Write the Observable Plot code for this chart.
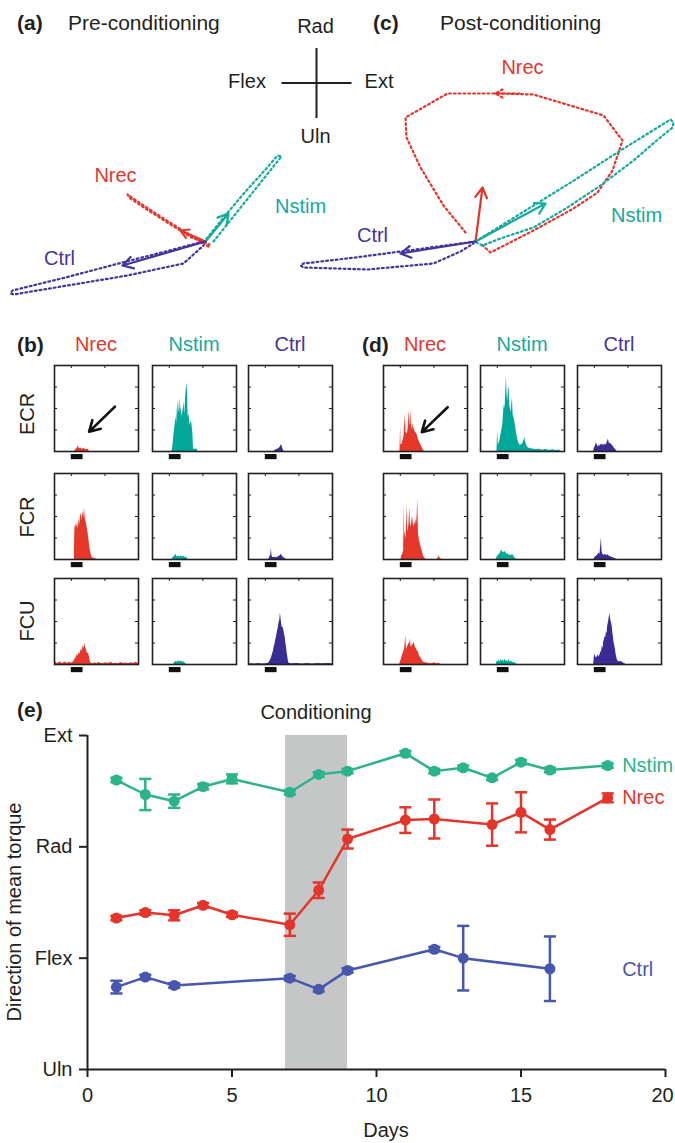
<!DOCTYPE html>
<html>
<head>
<meta charset="utf-8">
<script src="https://cdn.jsdelivr.net/npm/d3@7"></script>
<script src="https://cdn.jsdelivr.net/npm/@observablehq/plot@0.6"></script>
<style>
html,body{margin:0;padding:0;background:#fff;}
#fig{position:relative;width:675px;height:1143px;overflow:hidden;background:#fff;font-family:"Liberation Sans",Arial,Helvetica,sans-serif;color:#231f20;}
#eplot g[aria-label="x-axis tick"] path, #eplot g[aria-label="y-axis tick"] path, #eplot .tick line{stroke-width:2px;}
</style>
</head>
<body>
<div id="fig"></div>
<script>
// ======================= DATA =======================
const groups = ["Nrec", "Nstim", "Ctrl"];
const muscles = ["ECR", "FCR", "FCU"];

// (a)/(c) torque vectors (arbitrary units, origin = 0, y = radial)
const preArrowX = [-25, 23, -83];
const preArrowY = [11, 28, -24];
const postArrowX = [7, 70, -75];
const postArrowY = [54, 38, -12];

// torque trajectories (dotted loops)
const preLoopNrec = [[3,-5],[-18,8],[-42,23],[-62,36],[-78,47],[-75,43],[-57,31],[-35,17],[-14,4],[4,-3]];
const preLoopNstim = [[-2,-1],[18,24],[40,50],[60,72],[72,86],[76,85],[64,70],[44,45],[24,20],[8,0]];
const preLoopCtrl = [[-2,0],[-40,-10],[-83,-21],[-140,-36],[-193,-49],[-195,-52],[-192,-53],[-138,-44],[-78,-34],[-22,-22],[-2,-4]];
const postLoopNrec = [[-10,9],[-32,36],[-55,74],[-69,104],[-70,124],[-28,148],[22,148],[58,147],[128,126],[147,101],[137,71],[122,49],[98,33],[58,11],[15,-11],[5,-2]];
const postLoopNstim = [[0,0],[50,31],[100,62],[145,91],[195,122],[198,119],[197,114],[180,100],[158,81],[125,56],[92,34],[58,14],[25,3],[7,-4],[1,-1]];
const postLoopCtrl = [[0,0],[-60,-8],[-120,-16],[-172,-22],[-175,-24],[-172,-26],[-108,-28],[-42,-22],[-15,-10],[-2,-2]];
const postNrecDir = [{x1:44, y1:148, x2:20, y2:148}];

// label positions in (a)/(c)
const preLabelX = [-90, 95, -146];
const preLabelY = [66, 35, -17];
const postLabelX = [47, 161, -103];
const postLabelY = [174, 26, 6];

// direction compass
const compassCenter = [111, 158.5];
const compassArm = 35;
const compassNames = ["Rad", "Uln", "Flex", "Ext"];
const compassLabelX = [110, 110, 41.5, 173.5];
const compassLabelY = [215, 105, 160, 160];

// (b)/(d) EMG spike-triggered histograms: [time ms, height]
const histXTicks = [0, 100];
const histYTicks = [1, 2, 3];
const stimBar = [[0, 35]];

const preECRNrec = [[-50,0],[10,0],[13,0.08],[18,0.15],[21,0.28],[24,0.12],[28,0.18],[32,0.1],[38,0.14],[44,0.08],[50,0.1],[54,0],[200,0]];
const preECRNstim = [[-50,0],[8,0],[11,0.3],[14,0.8],[17,1.2],[20,1.6],[22,1.3],[25,2.4],[27,1.7],[29,2.0],[31,2.5],[33,1.8],[36,2.1],[38,1.6],[41,1.9],[44,2.3],[46,1.7],[49,2.6],[52,3.2],[54,2.8],[56,1.6],[59,1.75],[61,1.2],[64,1.4],[67,1.3],[70,0.9],[72,0.12],[76,0.1],[82,0.12],[86,0],[200,0]];
const preECRCtrl = [[-50,0],[25,0],[30,0.06],[36,0.1],[41,0.14],[45,0.22],[48,0.32],[51,0.2],[54,0.05],[57,0],[200,0]];
const preFCRNrec = [[-50,0],[9,0],[10,1.0],[11,1.6],[13,1.45],[15,1.7],[17,1.5],[19,1.75],[21,1.4],[23,1.9],[25,1.6],[27,2.0],[29,2.15],[31,1.8],[33,2.1],[35,2.2],[37,1.9],[39,2.4],[41,2.0],[43,1.8],[45,1.7],[47,1.5],[49,1.3],[51,1.1],[53,0.85],[55,0.6],[57,0.4],[59,0.25],[61,0.12],[66,0.06],[72,0.04],[78,0],[200,0]];
const preFCRNstim = [[-50,0],[8,0],[12,0.1],[16,0.15],[20,0.25],[23,0.12],[27,0.18],[31,0.1],[35,0.17],[39,0.1],[43,0.16],[47,0.08],[51,0.12],[55,0],[200,0]];
const preFCRCtrl = [[-50,0],[10,0],[13,0.1],[16,0.2],[18,0.5],[20,0.15],[24,0.08],[28,0.1],[33,0.08],[38,0.12],[42,0.15],[46,0.2],[48,0.26],[51,0.15],[55,0.08],[60,0.04],[64,0],[200,0]];
const preFCUNrec = [[-50,0.05],[-45,0.1],[-42,0.04],[-38,0.08],[-32,0.12],[-28,0.04],[-22,0.08],[-18,0.12],[-12,0.05],[-6,0.1],[0,0.06],[5,0.1],[8,0.15],[11,0.25],[14,0.3],[17,0.45],[20,0.38],[23,0.55],[26,0.48],[29,0.7],[32,0.62],[35,0.85],[38,0.75],[40,1.0],[42,0.8],[45,0.7],[48,0.5],[51,0.55],[54,0.35],[57,0.1],[60,0.06],[65,0.03],[70,0.08],[76,0.04],[82,0.1],[88,0.05],[95,0.03],[102,0.08],[110,0.05],[118,0.1],[125,0.04],[132,0.06],[140,0.03],[148,0.09],[155,0.05],[162,0.07],[170,0.03],[178,0.08],[185,0.05],[192,0.1],[200,0.05]];
const preFCUNstim = [[-50,0],[12,0],[16,0.08],[20,0.15],[24,0.1],[28,0.18],[32,0.12],[36,0.15],[40,0.1],[44,0.12],[48,0.05],[52,0],[200,0]];
const preFCUCtrl = [[-50,0.02],[-40,0.04],[-30,0.02],[-20,0.05],[-10,0.02],[0,0.04],[8,0.05],[12,0.1],[15,0.2],[18,0.28],[21,0.45],[24,0.6],[27,0.85],[29,0.95],[31,1.15],[33,1.25],[35,1.45],[37,1.6],[39,1.75],[41,1.95],[43,2.05],[45,2.4],[47,2.1],[49,1.85],[51,1.7],[53,1.75],[55,1.6],[57,1.4],[59,1.3],[61,1.0],[63,0.8],[65,0.55],[67,0.35],[69,0.12],[72,0.05],[80,0.03],[95,0.05],[110,0.02],[125,0.05],[140,0.02],[155,0.05],[170,0.03],[185,0.05],[200,0.03]];

const postECRNrec = [[-50,0],[-1,0],[0,0.6],[1,1.2],[2,0.3],[5,0.35],[8,0.5],[11,0.7],[13,1.2],[15,1.75],[17,0.9],[20,0.8],[23,1.0],[25,1.5],[27,1.9],[29,1.2],[31,1.3],[32,2.0],[34,1.2],[36,1.0],[38,1.3],[40,1.1],[42,1.0],[45,0.9],[48,0.85],[51,0.75],[54,0.55],[57,0.45],[60,0.35],[63,0.25],[66,0.15],[69,0.06],[73,0],[200,0]];
const postECRNstim = [[-50,0],[-1,0],[0,0.5],[1,1.0],[3,0.3],[6,0.4],[9,0.6],[12,0.9],[15,1.1],[17,1.4],[19,1.9],[21,2.2],[23,2.0],[25,2.7],[27,3.5],[29,2.7],[31,2.3],[33,2.9],[35,3.0],[37,2.2],[39,2.0],[41,1.8],[43,2.2],[45,2.5],[47,1.7],[49,1.6],[52,1.4],[55,1.1],[58,0.8],[61,0.55],[64,0.4],[67,0.3],[71,0.3],[75,0.35],[78,0.45],[80,0.55],[82,0.65],[84,0.45],[87,0.3],[90,0.2],[95,0.15],[105,0.12],[115,0.08],[125,0.1],[135,0.06],[145,0.1],[155,0.05],[165,0.08],[175,0.05],[185,0.07],[190,0],[200,0]];
const postECRCtrl = [[-50,0],[-2,0],[0,0.15],[3,0.25],[6,0.4],[9,0.3],[12,0.2],[15,0.3],[18,0.25],[21,0.35],[24,0.3],[27,0.32],[30,0.28],[33,0.35],[36,0.3],[39,0.45],[42,0.58],[45,0.35],[48,0.4],[52,0.3],[56,0.25],[60,0.15],[64,0.08],[68,0],[200,0]];
const postFCRNrec = [[-50,0],[2,0],[4,0.15],[7,0.25],[10,0.4],[11,1.5],[12,2.6],[13,1.3],[15,1.1],[17,1.0],[19,1.8],[20,2.65],[22,1.3],[24,1.4],[26,1.7],[28,2.4],[30,1.7],[32,1.5],[34,1.7],[36,2.0],[38,1.8],[40,1.5],[42,1.6],[44,1.7],[46,1.9],[48,1.6],[50,2.0],[52,2.8],[54,1.2],[57,0.9],[60,0.7],[63,0.5],[66,0.35],[69,0.15],[73,0.06],[78,0],[110,0],[113,0.08],[116,0.16],[119,0.05],[124,0],[200,0]];
const postFCRNstim = [[-50,0],[-3,0],[-1,0.1],[3,0.2],[7,0.25],[10,0.35],[13,0.42],[16,0.35],[19,0.3],[22,0.38],[25,0.32],[28,0.25],[31,0.28],[34,0.2],[38,0.22],[42,0.18],[46,0.24],[50,0.12],[54,0.05],[58,0],[200,0]];
const postFCRCtrl = [[-50,0],[-1,0],[2,0.1],[6,0.15],[10,0.2],[14,0.3],[17,0.25],[19,0.6],[21,1.0],[23,0.4],[25,0.25],[29,0.2],[33,0.25],[37,0.18],[41,0.22],[45,0.15],[50,0.12],[56,0.08],[62,0.05],[67,0],[200,0]];
const postFCUNrec = [[-50,0],[-2,0],[0,0.1],[3,0.25],[6,0.4],[9,0.55],[12,0.65],[14,0.9],[16,1.37],[18,0.8],[20,0.7],[22,0.85],[24,0.9],[26,1.0],[28,0.95],[30,1.2],[32,0.85],[34,0.8],[36,0.95],[38,0.9],[41,1.05],[44,0.85],[47,0.75],[50,0.65],[53,0.6],[56,0.45],[59,0.35],[62,0.3],[65,0.2],[69,0.12],[74,0.08],[84,0.06],[94,0.03],[102,0.08],[109,0.04],[116,0.06],[122,0],[200,0]];
const postFCUNstim = [[-50,0],[-3,0],[-1,0.15],[2,0.12],[5,0.2],[8,0.12],[11,0.25],[14,0.15],[17,0.2],[20,0.12],[23,0.25],[26,0.15],[29,0.18],[32,0.1],[35,0.24],[38,0.12],[42,0.15],[46,0.08],[50,0.1],[55,0.03],[60,0],[200,0]];
const postFCUCtrl = [[-50,0],[-2,0],[0,0.35],[2,0.5],[4,0.35],[7,0.3],[10,0.45],[13,0.35],[16,0.42],[19,0.55],[22,0.65],[24,0.85],[26,0.75],[28,1.05],[30,1.15],[32,1.3],[34,1.25],[36,1.5],[38,1.45],[40,1.8],[42,1.95],[44,2.15],[46,2.3],[47,2.35],[49,2.05],[51,1.95],[53,1.8],[55,1.5],[57,1.25],[59,1.0],[61,0.85],[63,0.7],[65,0.45],[68,0.25],[71,0.15],[75,0.12],[80,0.15],[85,0.08],[90,0.05],[94,0],[200,0]];

// pointer arrows in ECR/Nrec histograms [t1,h1,t2,h2]
const preECRArrow = [{x1:130, y1:2.09, x2:53, y2:0.92}];
const postECRArrow = [{x1:141, y1:2.06, x2:64, y2:0.9}];

// (e) daily direction of mean torque (0 = Uln, 1 = Flex, 2 = Rad, 3 = Ext)
const eDaysNstim = [1,2,3,4,5,7,8,9,11,12,13,14,15,16,18];
const eNstim     = [2.60,2.47,2.41,2.54,2.61,2.49,2.65,2.68,2.84,2.68,2.71,2.62,2.76,2.69,2.73];
const eNstimErr  = [0.02,0.14,0.06,0.025,0.04,0.02,0.02,0.02,0.02,0.02,0.02,0.02,0.02,0.02,0.02];
const eDaysNrec  = [1,2,3,4,5,7,8,9,11,12,14,15,16,18];
const eNrec      = [1.36,1.41,1.385,1.475,1.39,1.30,1.61,2.07,2.24,2.25,2.20,2.31,2.155,2.44];
const eNrecErr   = [0.02,0.02,0.045,0.02,0.02,0.10,0.07,0.085,0.115,0.175,0.19,0.18,0.09,0.04];
const eDaysCtrl  = [1,2,3,7,8,9,12,13,16];
const eCtrl      = [0.74,0.83,0.755,0.82,0.72,0.89,1.08,1.00,0.905];
const eCtrlErr   = [0.057,0.02,0.02,0.02,0.02,0.02,0.02,0.29,0.29];
const eYTickLabels = ["Uln","Flex","Rad","Ext"];
const eXTicks = [0,5,10,15,20];
const conditioning = [6.85, 9.0];
const eLabelNames = ["Nstim","Nrec","Ctrl"];
const eLabelY = [2.73, 2.44, 0.9];
const eLabelX = 18.5;

// ======================= DRAWING =======================
const fig = document.getElementById("fig");
const FONT = '"Liberation Sans", Arial, Helvetica, sans-serif';
const INK = "#231f20";
const topColors = {Nrec:"#e4352b", Nstim:"#15a99d", Ctrl:"#45339b"};
const histColors = {Nrec:"#e5382a", Nstim:"#00a89a", Ctrl:"#3b2c95"};
const eColors = {Nstim:"#2bb38b", Nrec:"#e4352b", Ctrl:"#4757ae"};
const baseStyle = {background:"transparent", overflow:"visible", fontFamily:FONT, fontSize:"20px", color:INK};

function addText(txt, x, y, o = {}) {
  const d = document.createElement("div");
  d.textContent = txt;
  const size = o.size || 20;
  d.style.cssText = `position:absolute;left:${x}px;top:${y}px;font-size:${size}px;line-height:1;white-space:nowrap;color:${o.color||INK};font-weight:${o.bold?"bold":"normal"};`;
  const tx = o.anchor === "middle" ? "-50%" : o.anchor === "end" ? "-100%" : "0";
  d.style.transform = `translate(${tx},-50%)` + (o.rotate ? ` rotate(${o.rotate}deg)` : "");
  fig.appendChild(d);
}
function put(svg, left, top, id) {
  svg.style.position = "absolute";
  svg.style.left = left + "px";
  svg.style.top = top + "px";
  if (id) svg.id = id;
  fig.appendChild(svg);
}
const DOTS = "1.8 3";
const dotted = c => ({x: d => d[0], y: d => d[1], stroke: c, strokeWidth: 2.2, strokeDasharray: DOTS, curve: "linear"});

// ---- panel (a) ----
{
  const loops = {Nrec: preLoopNrec, Nstim: preLoopNstim, Ctrl: preLoopCtrl};
  const marks = [];
  groups.forEach(g => marks.push(Plot.line(loops[g], dotted(topColors[g]))));
  groups.forEach((g, i) => marks.push(Plot.arrow([{x: preArrowX[i], y: preArrowY[i]}], {x1: () => 0, y1: () => 0, x2: "x", y2: "y", stroke: topColors[g], strokeWidth: 2.2, headLength: 8})));
  groups.forEach((g, i) => marks.push(Plot.text([g], {x: () => preLabelX[i], y: () => preLabelY[i], text: d => d, fill: topColors[g], fontSize: 20})));
  // compass
  const [cx, cy] = compassCenter;
  marks.push(Plot.link([{x1: cx - compassArm, y1: cy, x2: cx + compassArm, y2: cy}, {x1: cx, y1: cy - compassArm, x2: cx, y2: cy + compassArm}],
    {x1: "x1", y1: "y1", x2: "x2", y2: "y2", stroke: INK, strokeWidth: 2}));
  marks.push(Plot.text(compassNames, {x: (d, i) => compassLabelX[i], y: (d, i) => compassLabelY[i], text: d => d, fill: INK, fontSize: 20}));
  const svg = Plot.plot({width: 340, height: 300, margin: 0, x: {domain: [-205, 135], axis: null}, y: {domain: [-59, 241], axis: null}, style: baseStyle, marks});
  put(svg, 0, 0);
}
// ---- panel (c) ----
{
  const loops = {Nrec: postLoopNrec, Nstim: postLoopNstim, Ctrl: postLoopCtrl};
  const marks = [];
  groups.forEach(g => marks.push(Plot.line(loops[g], dotted(topColors[g]))));
  marks.push(Plot.arrow(postNrecDir, {x1: "x1", y1: "y1", x2: "x2", y2: "y2", stroke: topColors.Nrec, strokeWidth: 2.2, strokeDasharray: DOTS, headLength: 8}));
  groups.forEach((g, i) => marks.push(Plot.arrow([{x: postArrowX[i], y: postArrowY[i]}], {x1: () => 0, y1: () => 0, x2: "x", y2: "y", stroke: topColors[g], strokeWidth: 2.2, headLength: 8})));
  groups.forEach((g, i) => marks.push(Plot.text([g], {x: () => postLabelX[i], y: () => postLabelY[i], text: d => d, fill: topColors[g], fontSize: 20})));
  const svg = Plot.plot({width: 375, height: 300, margin: 0, x: {domain: [-175, 200], axis: null}, y: {domain: [-59, 241], axis: null}, style: baseStyle, marks});
  put(svg, 300, 0);
}
addText("(a)", 17, 22, {bold: true, size: 21});
addText("Pre-conditioning", 68, 22, {size: 21});
addText("(c)", 373, 22, {bold: true, size: 21});
addText("Post-conditioning", 440, 22, {size: 21});

// ---- panels (b) and (d) ----
const preHist = {
  ECR: {Nrec: preECRNrec, Nstim: preECRNstim, Ctrl: preECRCtrl},
  FCR: {Nrec: preFCRNrec, Nstim: preFCRNstim, Ctrl: preFCRCtrl},
  FCU: {Nrec: preFCUNrec, Nstim: preFCUNstim, Ctrl: preFCUCtrl}
};
const postHist = {
  ECR: {Nrec: postECRNrec, Nstim: postECRNstim, Ctrl: postECRCtrl},
  FCR: {Nrec: postFCRNrec, Nstim: postFCRNstim, Ctrl: postFCRCtrl},
  FCU: {Nrec: postFCUNrec, Nstim: postFCUNstim, Ctrl: postFCUCtrl}
};
function hist(data, color, arrow) {
  const marks = [
    Plot.areaY(data, {x: d => d[0], y: d => d[1], fill: color, curve: "linear"}),
    Plot.ruleX(histXTicks, {x: d => d, y1: 4, y2: 3.86, stroke: INK, strokeWidth: 1}),
    Plot.ruleY(histYTicks, {y: d => d, x1: -50, x2: -41, stroke: INK, strokeWidth: 1}),
    Plot.ruleY(histYTicks, {y: d => d, x1: 191, x2: 200, stroke: INK, strokeWidth: 1}),
    Plot.rect(stimBar, {x1: d => d[0], x2: d => d[1], y1: -0.14, y2: -0.38, fill: "#111"}),
    Plot.frame({stroke: INK, strokeWidth: 1.6})
  ];
  if (arrow) marks.push(Plot.arrow(arrow, {x1: "x1", y1: "y1", x2: "x2", y2: "y2", stroke: "#111", strokeWidth: 2.6, headLength: 7}));
  return Plot.plot({width: 84, height: 98, marginTop: 0, marginLeft: 0, marginRight: 0, marginBottom: 12,
    x: {domain: [-50, 200], axis: null}, y: {domain: [0, 4], axis: null}, style: baseStyle, marks});
}
const rowTops = [365, 473, 578];
const preLefts = [54, 152, 248];
const postLefts = [383, 480, 577];
muscles.forEach((m, r) => {
  groups.forEach((g, c) => {
    put(hist(preHist[m][g], histColors[g], (m === "ECR" && g === "Nrec") ? preECRArrow : null), preLefts[c], rowTops[r]);
    put(hist(postHist[m][g], histColors[g], (m === "ECR" && g === "Nrec") ? postECRArrow : null), postLefts[c], rowTops[r]);
  });
});
addText("(b)", 17, 344, {bold: true, size: 21});
addText("(d)", 362, 344, {bold: true, size: 21});
groups.forEach((g, c) => {
  addText(g, preLefts[c] + 42, 344, {anchor: "middle", color: topColors[g]});
  addText(g, postLefts[c] + 42, 344, {anchor: "middle", color: topColors[g]});
});
const rowLabelY = [414, 517, 621];
muscles.forEach((m, r) => addText(m, 27, rowLabelY[r], {anchor: "middle", rotate: -90}));

// ---- panel (e) ----
{
  const series = [
    {g: "Nstim", days: eDaysNstim, v: eNstim, e: eNstimErr},
    {g: "Nrec", days: eDaysNrec, v: eNrec, e: eNrecErr},
    {g: "Ctrl", days: eDaysCtrl, v: eCtrl, e: eCtrlErr}
  ];
  const marks = [
    Plot.rect([conditioning], {x1: d => d[0], x2: d => d[1], y1: 0, y2: 3, fill: "#c5c6c6"})
  ];
  const cap = 0.21;
  for (const s of series) {
    const rows = s.days.map((d, i) => ({day: d, v: s.v[i], e: s.e[i]}));
    const c = eColors[s.g];
    marks.push(
      Plot.line(rows, {x: "day", y: "v", stroke: c, strokeWidth: 2.5}),
      Plot.ruleX(rows, {x: "day", y1: d => d.v - d.e, y2: d => d.v + d.e, stroke: c, strokeWidth: 2.5}),
      Plot.link(rows, {x1: d => d.day - cap, x2: d => d.day + cap, y1: d => d.v + d.e, y2: d => d.v + d.e, stroke: c, strokeWidth: 2.5}),
      Plot.link(rows, {x1: d => d.day - cap, x2: d => d.day + cap, y1: d => d.v - d.e, y2: d => d.v - d.e, stroke: c, strokeWidth: 2.5}),
      Plot.dot(rows, {x: "day", y: "v", r: 5.5, fill: c, stroke: "none"})
    );
  }
  eLabelNames.forEach((n, i) => marks.push(Plot.text([n], {x: () => eLabelX, y: () => eLabelY[i], text: d => d, fill: eColors[n], textAnchor: "start", fontSize: 20})));
  marks.push(Plot.ruleY([0], {stroke: INK, strokeWidth: 2}));
  marks.push(Plot.ruleX([0], {stroke: INK, strokeWidth: 2}));
  const svg = Plot.plot({
    width: 675, height: 453, marginTop: 45, marginBottom: 74, marginLeft: 87, marginRight: 10,
    x: {domain: [0, 20], ticks: eXTicks, tickSize: 8, tickPadding: 10, label: null},
    y: {domain: [0, 3], ticks: [0, 1, 2, 3], tickFormat: d => eYTickLabels[d], tickSize: 8, tickPadding: 7, label: null},
    style: baseStyle,
    marks
  });
  // keep the last x tick label inside the page
  svg.querySelectorAll("text").forEach(t => { if (t.textContent === String(eXTicks[eXTicks.length - 1])) t.setAttribute("dx", "-3"); });
  put(svg, 0, 690, "eplot");
}
addText("(e)", 17, 709, {bold: true, size: 21});
addText("Conditioning", 316, 712, {anchor: "middle"});
addText("Direction of mean torque", 14, 912, {anchor: "middle", rotate: -90});
addText("Days", 386, 1130, {anchor: "middle"});
</script>
</body>
</html>
